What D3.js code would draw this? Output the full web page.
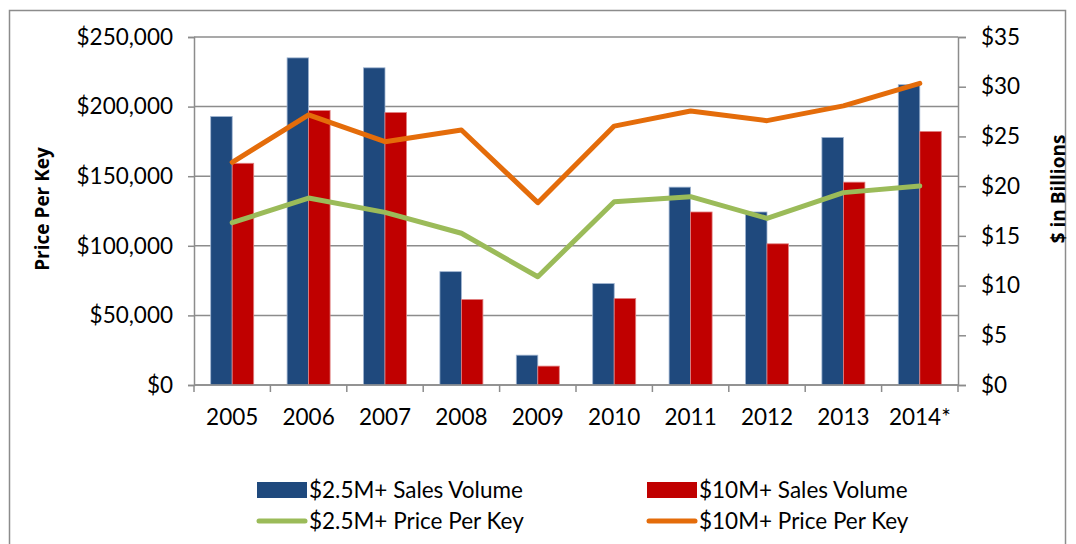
<!DOCTYPE html>
<html>
<head>
<meta charset="utf-8">
<script src="https://cdn.jsdelivr.net/npm/d3@7"></script>
<style>
  body { margin: 0; background: #fff; }
  text { font-family: Lato, "Open Sans", sans-serif; fill: #000; }
</style>
</head>
<body>
<svg id="chart"></svg>
<script>
var years = ["2005", "2006", "2007", "2008", "2009", "2010", "2011", "2012", "2013", "2014*"];
// sales volume, $ billions (right axis)
var vol25 = [27.0, 32.9, 31.9, 11.4, 3.0, 10.2, 19.9, 17.4, 24.9, 30.2];
var vol10 = [22.3, 27.6, 27.4, 8.6, 1.9, 8.7, 17.4, 14.2, 20.4, 25.5];
// price per key, $ (left axis)
var ppk25 = [116600, 134300, 124000, 109000, 77800, 131700, 135300, 119700, 138200, 143000];
var ppk10 = [160000, 194000, 174800, 183200, 131000, 186000, 196800, 189900, 200500, 216700];

var leftTicks = [0, 50000, 100000, 150000, 200000, 250000];
var rightTicks = [0, 5, 10, 15, 20, 25, 30, 35];

var W = 1076, H = 544;

var svg = d3.select("#chart").attr("width", W).attr("height", H);

svg.append("rect").attr("width", W).attr("height", H).attr("fill", "#fff");
// chart border
svg.append("rect")
  .attr("x", 9.5).attr("y", 10.5)
  .attr("width", 1056).attr("height", 560)
  .attr("fill", "none").attr("stroke", "#8c8c8c").attr("stroke-width", 1.5);

var x = d3.scaleBand().domain(years).range([194, 958]).padding(0);
var yL = d3.scaleLinear().domain([0, 250000]).range([385, 37]);
var yR = d3.scaleLinear().domain([0, 35]).range([385, 37]);

var barW = 21.5;

// gridlines
svg.append("g").selectAll("line")
  .data(leftTicks)
  .enter().append("line")
  .attr("x1", 194).attr("x2", 958)
  .attr("y1", function(d) { return yL(d); })
  .attr("y2", function(d) { return yL(d); })
  .attr("stroke", "#8c8c8c").attr("stroke-width", 1.5);

// bars
var series = [
  {vals: vol25, fill: "#1F497D", stroke: "#9fb4d0", off: -barW},
  {vals: vol10, fill: "#C00000", stroke: "#e08080", off: 0}
];
series.forEach(function(s) {
  svg.append("g").selectAll("rect")
    .data(years)
    .enter().append("rect")
    .attr("x", function(d) { return x(d) + x.bandwidth() / 2 + s.off; })
    .attr("y", function(d, i) { return yR(s.vals[i]); })
    .attr("width", barW)
    .attr("height", function(d, i) { return yR(0) - yR(s.vals[i]); })
    .attr("fill", s.fill)
    .attr("stroke", s.stroke).attr("stroke-width", 0.8);
});

// lines
var line = d3.line()
  .x(function(d, i) { return x(years[i]) + x.bandwidth() / 2; })
  .y(function(d) { return yL(d); });

svg.append("path").datum(ppk25)
  .attr("d", line).attr("fill", "none")
  .attr("stroke", "#9BBB59").attr("stroke-width", 5)
  .attr("stroke-linejoin", "round").attr("stroke-linecap", "round");
svg.append("path").datum(ppk10)
  .attr("d", line).attr("fill", "none")
  .attr("stroke", "#E46C0A").attr("stroke-width", 5)
  .attr("stroke-linejoin", "round").attr("stroke-linecap", "round");

// axes
var fmtL = function(d) { return "$" + d3.format(",")(d); };
var gL = svg.append("g").attr("transform", "translate(194,0)")
  .call(d3.axisLeft(yL).tickValues(leftTicks).tickFormat(fmtL).tickSize(6).tickPadding(15));
var gR = svg.append("g").attr("transform", "translate(958,0)")
  .call(d3.axisRight(yR).tickValues(rightTicks).tickFormat(function(d) { return "$" + d; }).tickSize(8).tickPadding(15));
var gX = svg.append("g").attr("transform", "translate(0,385)")
  .call(d3.axisBottom(x).tickSize(0).tickPadding(24));

[gL, gR, gX].forEach(function(g) {
  g.attr("font-family", null).attr("font-size", null);
  g.select(".domain").attr("stroke", "#8c8c8c").attr("stroke-width", 1.5);
  g.selectAll(".tick line").attr("stroke", "#8c8c8c").attr("stroke-width", 1.5);
  g.selectAll("text").style("font-size", "22.5px").style("font-family", "Lato");
});
gX.select(".domain").attr("d", "M194,0H958");

// category boundary ticks on the x axis
svg.append("g").selectAll("line")
  .data(years.concat(["end"]))
  .enter().append("line")
  .attr("x1", function(d, i) { return 194 + i * x.bandwidth(); })
  .attr("x2", function(d, i) { return 194 + i * x.bandwidth(); })
  .attr("y1", 385).attr("y2", 392)
  .attr("stroke", "#8c8c8c").attr("stroke-width", 1.5);

// axis titles
svg.append("text")
  .attr("transform", "translate(49,209) rotate(-90)")
  .attr("text-anchor", "middle")
  .style("font-family", "'Open Sans', sans-serif")
  .style("font-size", "19px").style("font-weight", "700")
  .text("Price Per Key");
svg.append("text")
  .attr("transform", "translate(1065,189) rotate(-90)")
  .attr("text-anchor", "middle")
  .style("font-family", "'Open Sans', sans-serif")
  .style("font-size", "19px").style("font-weight", "700")
  .text("$ in Billions");

// legend
var legend = [
  {label: "$2.5M+ Sales Volume", type: "bar", color: "#1F497D", x: 257, y: 490},
  {label: "$10M+ Sales Volume", type: "bar", color: "#C00000", x: 647, y: 490},
  {label: "$2.5M+ Price Per Key", type: "line", color: "#9BBB59", x: 257, y: 521},
  {label: "$10M+ Price Per Key", type: "line", color: "#E46C0A", x: 647, y: 521}
];
var lg = svg.append("g").selectAll("g").data(legend).enter().append("g")
  .attr("transform", function(d) { return "translate(" + d.x + "," + d.y + ")"; });
lg.filter(function(d) { return d.type == "bar"; }).append("rect")
  .attr("x", 0).attr("y", -8).attr("width", 50).attr("height", 16)
  .attr("fill", function(d) { return d.color; });
lg.filter(function(d) { return d.type == "line"; }).append("line")
  .attr("x1", 2).attr("x2", 48).attr("y1", 0).attr("y2", 0)
  .attr("stroke", function(d) { return d.color; })
  .attr("stroke-width", 5).attr("stroke-linecap", "round");
lg.append("text")
  .attr("x", 52).attr("y", 8)
  .style("font-size", "22.5px")
  .text(function(d) { return d.label; });
</script>
</body>
</html>
